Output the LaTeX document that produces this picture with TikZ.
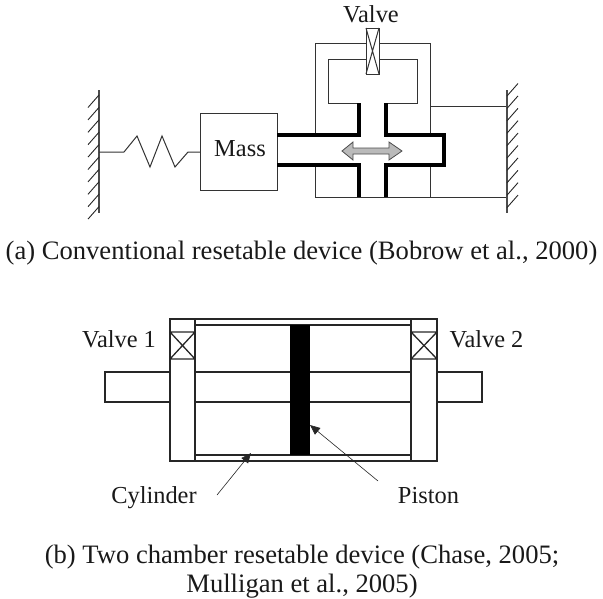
\documentclass[tikz,border=0pt]{standalone}
\usepackage{fontspec}
\setmainfont{Liberation Serif}
\usetikzlibrary{arrows.meta}
\tikzset{
  thin line/.style={draw=black!80,line width=1pt},
  thick line/.style={draw=black,line width=3.4pt,line cap=butt,line join=miter},
  hatch/.style={draw=black!85,line width=0.9pt},
  wall/.style={draw=black!70,line width=1.3pt},
  cyl/.style={draw=black!85,line width=1.3pt},
  pointer/.style={draw=black!85,line width=0.6pt,-{Triangle[length=10pt,width=8.5pt]}},
  label/.style={inner sep=0pt,anchor=base,font=\fontsize{24.4}{28}\selectfont,text=black!90},
  caption/.style={inner sep=0pt,font=\fontsize{26.6}{29}\selectfont,text=black!90,align=center}
}
\begin{document}
\begin{tikzpicture}[x=1pt,y=-1pt]
\useasboundingbox (0,0) rectangle (603,598);
% left wall
\draw[wall] (99,90) -- (99,213);
\foreach \i in {0,...,9} \draw[hatch] (99,95+12.4*\i) -- ++(-11,12.5);
% spring
\draw[thin line,line join=miter] (99,152) -- (124,152) -- (137,136) -- (150,167) -- (162,136) -- (175,167) -- (188,152) -- (200,152);
\node[thin line,minimum width=77pt,minimum height=77pt,inner sep=0pt] (mass) at (238.5,151.5) {};
\node[label] (masstext) at (240,156) {Mass};
% housing
\draw[thin line] (315,135) -- (315,43) -- (430,43) -- (430,135);
\draw[thin line] (315,165) -- (315,197) -- (507,197);
\draw[thin line] (430,165) -- (430,197);
\draw[thin line] (430,106) -- (507,106);
\draw[thin line] (359,103) -- (328,103) -- (328,59) -- (417,59) -- (417,103) -- (386,103);
% thick walls
\draw[thick line] (277,135) -- (359,135) -- (359,103);
\draw[thick line] (386,103) -- (386,135) -- (444,135) -- (444,165) -- (386,165) -- (386,197);
\draw[thick line] (277,165) -- (359,165) -- (359,197);
% arrow
\draw[draw=black!70,fill=black!27,line width=0.8pt,line join=miter] (342,151) -- (353,142) -- (353,148) -- (389,148) -- (389,142) -- (402,151) -- (389,160) -- (389,154) -- (353,154) -- (353,160) -- cycle;
% valve
\draw[thin line,fill=white] (366,28) rectangle (379,74);
\draw[thin line] (366,28) -- (379,74) (379,28) -- (366,74);
\node[label] (valve) at (371,22) {Valve};
% right wall
\draw[wall] (507,90) -- (507,213);
\foreach \i in {0,...,9} \draw[hatch] (507,96+12.4*\i) -- ++(11,-12.5);
\node[caption,anchor=base] (capa) at (301.5,259) {(a) Conventional resetable device (Bobrow et al., 2000)};
% cylinder
\draw[cyl] (195,319) -- (411,319) (195,325) -- (411,325) (195,455) -- (411,455) (195,461) -- (411,461);
\draw[cyl] (170,319) rectangle (195,461);
\draw[cyl] (411,319) rectangle (437,461);
\draw[cyl] (170,332) rectangle (195,359) (170,332) -- (195,359) (195,332) -- (170,359);
\draw[cyl] (411,332) rectangle (437,359) (411,332) -- (437,359) (437,332) -- (411,359);
\draw[cyl] (170,372) -- (105,372) -- (105,402) -- (170,402);
\draw[cyl] (195,372) -- (411,372) (195,402) -- (411,402);
\draw[cyl] (437,372) -- (482,372) -- (482,402) -- (437,402);
\fill[black] (290,325) rectangle (310,455);
\node[label] (v1) at (119,347) {Valve 1};
\node[label] (v2) at (486.5,347) {Valve 2};
\node[label] (cylt) at (154,503) {Cylinder};
\node[label] (pist) at (428.5,503) {Piston};
\coordinate (ca) at (217,495);
\coordinate (cb) at (251,453);
\coordinate (pa) at (378,481);
\coordinate (pb) at (310,425);
\draw[pointer] (ca) -- (cb);
\draw[pointer] (pa) -- (pb);
\node[caption] (capb) at (302,572) {(b) Two chamber resetable device (Chase, 2005;\\Mulligan et al., 2005)};
\end{tikzpicture}
\end{document}
